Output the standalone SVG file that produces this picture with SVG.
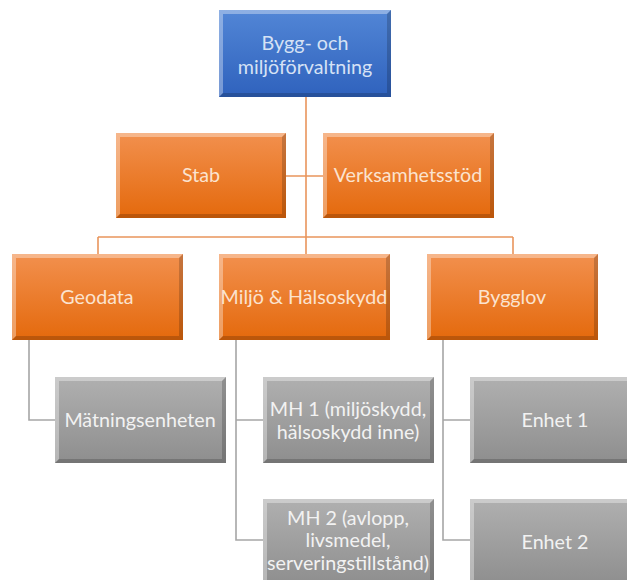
<svg xmlns="http://www.w3.org/2000/svg" width="627" height="580" viewBox="0 0 627 580">
<defs>
<linearGradient id="gb" x1="0" y1="0" x2="0" y2="1"><stop offset="0" stop-color="#5286d6"/><stop offset="1" stop-color="#2f62bd"/></linearGradient>
<linearGradient id="go" x1="0" y1="0" x2="0" y2="1"><stop offset="0" stop-color="#f2904e"/><stop offset="1" stop-color="#e4690c"/></linearGradient>
<linearGradient id="gg" x1="0" y1="0" x2="0" y2="1"><stop offset="0" stop-color="#b0b0b0"/><stop offset="1" stop-color="#8e8e8e"/></linearGradient>
</defs>
<style>
.t{font-family:Lato,"Open Sans","Liberation Sans",sans-serif;font-size:19.7px;text-anchor:middle;}
.tb{fill:#d6e2f5}
.to{fill:#fbe3cf}
.tg{fill:#f2f2f2}
.co{stroke:#e9955c;stroke-width:1.6;fill:none}
.cg{stroke:#a6a6a6;stroke-width:1.6;fill:none}
.hl{fill:#ffffff;opacity:0.35}
.sh{fill:#000000;opacity:0.18}
</style>
<g id="connectors">
<path class="co" d="M306 97V237M98 237H513M98 237V254M306 237V254M513 237V254M286 176H323"/>
<path class="cg" d="M29 340V420H55M236 340V540H263M236 420H263M443 340V540H470M443 420H470"/>
</g>
<g id="n-top">
<rect x="219" y="10" width="172" height="87" fill="url(#gb)"/>
<path class="hl" d="M219 10H391L387 14H223V93L219 97Z"/>
<path class="sh" d="M391 10V97H219L223 93H387V14Z"/>
<text class="t tb" x="305" y="50">Bygg- och</text>
<text class="t tb" x="305" y="74">miljöförvaltning</text>
</g>
<g id="n-stab">
<rect x="116" y="133" width="170" height="85" fill="url(#go)"/>
<path class="hl" d="M116 133H286L282 137H120V214L116 218Z"/>
<path class="sh" d="M286 133V218H116L120 214H282V137Z"/>
<text class="t to" x="201" y="182">Stab</text>
</g>
<g id="n-verk">
<rect x="323" y="133" width="171" height="85" fill="url(#go)"/>
<path class="hl" d="M323 133H494L490 137H327V214L323 218Z"/>
<path class="sh" d="M494 133V218H323L327 214H490V137Z"/>
<text class="t to" x="408" y="182">Verksamhetsstöd</text>
</g>
<g id="n-geo">
<rect x="12" y="254" width="171" height="86" fill="url(#go)"/>
<path class="hl" d="M12 254H183L179 258H16V336L12 340Z"/>
<path class="sh" d="M183 254V340H12L16 336H179V258Z"/>
<text class="t to" x="97" y="304">Geodata</text>
</g>
<g id="n-miljo">
<rect x="219" y="254" width="171" height="86" fill="url(#go)"/>
<path class="hl" d="M219 254H390L386 258H223V336L219 340Z"/>
<path class="sh" d="M390 254V340H219L223 336H386V258Z"/>
<text class="t to" x="304" y="304">Miljö &amp; Hälsoskydd</text>
</g>
<g id="n-bygglov">
<rect x="427" y="254" width="171" height="86" fill="url(#go)"/>
<path class="hl" d="M427 254H598L594 258H431V336L427 340Z"/>
<path class="sh" d="M598 254V340H427L431 336H594V258Z"/>
<text class="t to" x="512" y="304">Bygglov</text>
</g>
<g id="n-matning">
<rect x="55" y="377" width="171" height="86" fill="url(#gg)"/>
<path class="hl" d="M55 377H226L222 381H59V459L55 463Z"/>
<path class="sh" d="M226 377V463H55L59 459H222V381Z"/>
<text class="t tg" x="140" y="427">Mätningsenheten</text>
</g>
<g id="n-mh1">
<rect x="263" y="377" width="171" height="86" fill="url(#gg)"/>
<path class="hl" d="M263 377H434L430 381H267V459L263 463Z"/>
<path class="sh" d="M434 377V463H263L267 459H430V381Z"/>
<text class="t tg" x="348" y="416">MH 1 (miljöskydd,</text>
<text class="t tg" x="348" y="439">hälsoskydd inne)</text>
</g>
<g id="n-mh2">
<rect x="263" y="499" width="171" height="86" fill="url(#gg)"/>
<path class="hl" d="M263 499H434L430 503H267V581L263 585Z"/>
<path class="sh" d="M434 499V585H263L267 581H430V503Z"/>
<text class="t tg" x="348" y="525">MH 2 (avlopp,</text>
<text class="t tg" x="348" y="547">livsmedel,</text>
<text class="t tg" x="348" y="570">serveringstillstånd)</text>
</g>
<g id="n-enhet1">
<rect x="470" y="377" width="171" height="86" fill="url(#gg)"/>
<path class="hl" d="M470 377H641L637 381H474V459L470 463Z"/>
<path class="sh" d="M641 377V463H470L474 459H637V381Z"/>
<text class="t tg" x="555" y="427">Enhet 1</text>
</g>
<g id="n-enhet2">
<rect x="470" y="499" width="171" height="86" fill="url(#gg)"/>
<path class="hl" d="M470 499H641L637 503H474V581L470 585Z"/>
<path class="sh" d="M641 499V585H470L474 581H637V503Z"/>
<text class="t tg" x="555" y="549">Enhet 2</text>
</g>
</svg>
